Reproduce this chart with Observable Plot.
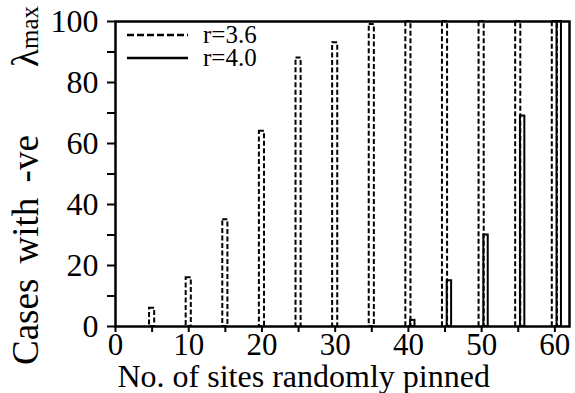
<!DOCTYPE html>
<html><head><meta charset="utf-8">
<script src="https://cdn.jsdelivr.net/npm/d3@7"></script>
<script src="https://cdn.jsdelivr.net/npm/@observablehq/plot@0.6"></script>
<style>body{margin:0;background:#fff} svg{display:block}</style>
</head><body><div id="chart"></div>
<script>
// data
const sitesA = [5, 10, 15, 20, 25, 30, 35, 40, 45, 50, 55, 60];   // r=3.6
const casesA = [6, 16, 35, 64, 88, 93, 99, 100, 100, 100, 100, 100];
const sitesB = [40, 45, 50, 55, 60];                               // r=4.0
const casesB = [2, 15, 30, 69, 100];
const xTicks = [0, 5, 10, 15, 20, 25, 30, 35, 40, 45, 50, 55, 60];
const xTickLabels = [0, 10, 20, 30, 40, 50, 60];
const yTicks = [0, 10, 20, 30, 40, 50, 60, 70, 80, 90, 100];
const yTickLabels = [0, 20, 40, 60, 80, 100];
const seriesNames = ["r=3.6", "r=4.0"];
const xTitle = "No. of sites randomly pinned";
const yTitle = "Cases with -ve";

const barsA = sitesA.map((n, i) => ({n, v: casesA[i]}));
const barsB = sitesB.map((n, i) => ({n, v: casesB[i]}));
const FONT = "Liberation Serif";

const plot = Plot.plot({
  width: 575, height: 393,
  marginLeft: 115, marginRight: 6, marginTop: 21, marginBottom: 67,
  x: {domain: [0, 62]},
  y: {domain: [0, 100]},
  marks: [
    Plot.rect(barsA, {x1: d => d.n - 0.35, x2: d => d.n + 0.35, y1: 0, y2: "v",
      fill: "none", stroke: "black", strokeWidth: 2, strokeDasharray: "5,2.5"}),
    Plot.rect(barsB, {x1: d => d.n + 0.3, x2: d => d.n + 0.9, y1: 0, y2: "v",
      fill: "none", stroke: "black", strokeWidth: 2}),
    Plot.frame({stroke: "black", strokeWidth: 2.5}),
    Plot.axisX({ticks: xTicks, tickSize: 6, tickPadding: 0, fontSize: 31, fontFamily: FONT, fontVariant: "normal",
      strokeWidth: 2, tickFormat: d => xTickLabels.includes(d) ? String(d) : "", label: null}),
    Plot.axisY({ticks: yTicks, tickSize: 8, tickPadding: 9, fontSize: 32, fontFamily: FONT, fontVariant: "normal",
      strokeWidth: 2, tickFormat: d => yTickLabels.includes(d) ? String(d) : "", label: null}),
    Plot.text([xTitle], {frameAnchor: "bottom-left", textAnchor: "start", lineAnchor: "bottom",
      dx: 2, dy: 60, fontSize: 32, fontFamily: FONT, text: d => d})
  ]
});

const svg = d3.select(plot);
svg.attr("font-family", FONT).style("color", "black").style("background", "white").style("overflow", "visible");

// y title
svg.append("text")
  .attr("transform", "translate(38,365) rotate(-90)")
  .attr("text-anchor", "start")
  .attr("font-family", FONT).attr("font-size", 37)
  .attr("word-spacing", 6)
  .text(yTitle);
const lam = svg.append("text")
  .attr("transform", "translate(38,67) rotate(-90)")
  .attr("text-anchor", "start")
  .attr("font-family", FONT).attr("font-size", 37);
lam.append("tspan").text("λ");
lam.append("tspan").attr("font-size", 25).text("max");

// legend
const leg = svg.append("g").attr("text-anchor", "start");
leg.append("line").attr("x1", 127).attr("x2", 188).attr("y1", 35).attr("y2", 35)
  .attr("stroke", "black").attr("stroke-width", 2.5).attr("stroke-dasharray", "7,3");
leg.append("line").attr("x1", 127).attr("x2", 188).attr("y1", 58).attr("y2", 58)
  .attr("stroke", "black").attr("stroke-width", 2.5);
leg.append("text").attr("x", 203).attr("y", 43).attr("font-family", FONT).attr("font-size", 25).text(seriesNames[0]);
leg.append("text").attr("x", 203).attr("y", 66).attr("font-family", FONT).attr("font-size", 25).text(seriesNames[1]);

document.getElementById("chart").appendChild(plot);
</script>
</body></html>
